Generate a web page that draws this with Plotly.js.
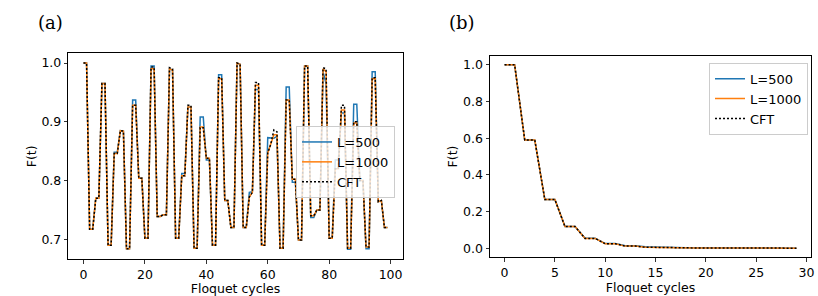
<!DOCTYPE html>
<html>
<head>
<meta charset="utf-8">
<script src="https://cdn.plot.ly/plotly-3.0.1.min.js"></script>
<style>html,body{margin:0;padding:0;background:#fff;}#chart{width:818px;height:296px;}</style>
</head>
<body>
<div id="chart"></div>
<script>
// ---- Panel (a): fidelity over 100 Floquet cycles ----
const cyclesA = Array.from({length: 100}, (_, i) => i);
const fA_L500 = [
  1.000, 1.000, 0.717, 0.717, 0.770, 0.770, 0.965, 0.965, 0.690, 0.690,
  0.848, 0.848, 0.885, 0.884, 0.684, 0.684, 0.937, 0.937, 0.804, 0.804,
  0.702, 0.702, 0.995, 0.995, 0.739, 0.739, 0.742, 0.742, 0.990, 0.988,
  0.702, 0.702, 0.812, 0.812, 0.925, 0.925, 0.685, 0.685, 0.908, 0.908,
  0.835, 0.835, 0.690, 0.690, 0.980, 0.980, 0.766, 0.766, 0.720, 0.720,
  1.000, 0.998, 0.720, 0.720, 0.780, 0.781, 0.955, 0.955, 0.690, 0.690,
  0.873, 0.873, 0.872, 0.875, 0.685, 0.685, 0.959, 0.959, 0.797, 0.797,
  0.699, 0.699, 0.995, 0.995, 0.737, 0.737, 0.750, 0.750, 0.985, 0.965,
  0.702, 0.702, 0.835, 0.835, 0.915, 0.915, 0.683, 0.683, 0.930, 0.930,
  0.800, 0.800, 0.684, 0.684, 0.985, 0.985, 0.764, 0.766, 0.720, 0.720
];
const fA_L1000 = [
  1.000, 1.000, 0.717, 0.717, 0.770, 0.770, 0.965, 0.965, 0.690, 0.690,
  0.846, 0.846, 0.885, 0.884, 0.684, 0.684, 0.928, 0.928, 0.804, 0.804,
  0.702, 0.702, 0.990, 0.990, 0.739, 0.739, 0.742, 0.742, 0.990, 0.988,
  0.702, 0.702, 0.808, 0.808, 0.925, 0.925, 0.685, 0.685, 0.891, 0.891,
  0.838, 0.838, 0.690, 0.690, 0.973, 0.973, 0.766, 0.766, 0.720, 0.720,
  1.000, 0.998, 0.720, 0.720, 0.772, 0.780, 0.962, 0.962, 0.690, 0.690,
  0.847, 0.862, 0.878, 0.878, 0.685, 0.685, 0.937, 0.937, 0.802, 0.802,
  0.699, 0.699, 0.995, 0.995, 0.740, 0.740, 0.750, 0.750, 0.990, 0.985,
  0.702, 0.702, 0.820, 0.820, 0.920, 0.920, 0.685, 0.685, 0.898, 0.898,
  0.800, 0.800, 0.687, 0.687, 0.973, 0.973, 0.764, 0.766, 0.720, 0.720
];
const fA_CFT = [
  1.000, 1.000, 0.717, 0.717, 0.770, 0.770, 0.965, 0.965, 0.690, 0.690,
  0.846, 0.846, 0.885, 0.884, 0.684, 0.684, 0.928, 0.928, 0.804, 0.804,
  0.702, 0.702, 0.993, 0.993, 0.739, 0.739, 0.742, 0.742, 0.992, 0.990,
  0.702, 0.702, 0.808, 0.808, 0.928, 0.928, 0.685, 0.685, 0.890, 0.890,
  0.838, 0.838, 0.690, 0.690, 0.975, 0.975, 0.766, 0.766, 0.720, 0.720,
  1.000, 0.998, 0.720, 0.720, 0.772, 0.780, 0.967, 0.967, 0.690, 0.690,
  0.847, 0.862, 0.886, 0.883, 0.685, 0.685, 0.937, 0.937, 0.802, 0.802,
  0.699, 0.699, 0.995, 0.995, 0.740, 0.740, 0.750, 0.750, 0.992, 0.990,
  0.702, 0.702, 0.820, 0.820, 0.928, 0.928, 0.685, 0.685, 0.900, 0.900,
  0.800, 0.800, 0.687, 0.687, 0.975, 0.975, 0.764, 0.766, 0.720, 0.720
];

// ---- Panel (b): fidelity decay over 30 Floquet cycles ----
const cyclesB = Array.from({length: 30}, (_, i) => i);
const fB_L500 = [
  1.000, 1.000, 0.590, 0.590, 0.265, 0.265, 0.118, 0.118, 0.054, 0.054,
  0.025, 0.025, 0.013, 0.013, 0.007, 0.007, 0.004, 0.003, 0.002, 0.002,
  0.001, 0.001, 0.001, 0.001, 0.000, 0.000, 0.000, 0.000, 0.000, 0.000
];
const fB_L1000 = [
  1.000, 1.000, 0.590, 0.590, 0.265, 0.265, 0.118, 0.118, 0.053, 0.053,
  0.024, 0.024, 0.011, 0.011, 0.005, 0.005, 0.002, 0.002, 0.001, 0.001,
  0.0005, 0.0005, 0.0002, 0.0002, 0.0001, 0.0001, 0.000, 0.000, 0.000, 0.000
];
const fB_CFT = [
  1.000, 1.000, 0.590, 0.590, 0.265, 0.265, 0.118, 0.118, 0.053, 0.053,
  0.024, 0.024, 0.011, 0.011, 0.005, 0.005, 0.002, 0.002, 0.001, 0.001,
  0.0005, 0.0005, 0.0002, 0.0002, 0.0001, 0.0001, 0.000, 0.000, 0.000, 0.000
];

const seriesNames = ["L=500", "L=1000", "CFT"];
const xTicksA = [0, 20, 40, 60, 80, 100];
const yTicksA = [0.7, 0.8, 0.9, 1.0];
const xTicksB = [0, 5, 10, 15, 20, 25, 30];
const yTicksB = [0.0, 0.2, 0.4, 0.6, 0.8, 1.0];

const BLUE = "#1f77b4", ORANGE = "#ff7f0e";
const FONT = "DejaVu Sans, sans-serif";

function mk(x, y, name, color, dash, xa, ya, leg, show) {
  return {
    x: x, y: y, name: name, type: "scatter", mode: "lines",
    line: {color: color, width: 1.5, dash: dash},
    xaxis: xa, yaxis: ya, legend: leg, showlegend: show
  };
}

const traces = [
  mk(cyclesA, fA_L500, seriesNames[0], BLUE, "solid", "x", "y", "legend", true),
  mk(cyclesA, fA_L1000, seriesNames[1], ORANGE, "solid", "x", "y", "legend", true),
  mk(cyclesA, fA_CFT, seriesNames[2], "#000000", "2px,2px", "x", "y", "legend", true),
  mk(cyclesB, fB_L500, seriesNames[0], BLUE, "solid", "x2", "y2", "legend2", true),
  mk(cyclesB, fB_L1000, seriesNames[1], ORANGE, "solid", "x2", "y2", "legend2", true),
  mk(cyclesB, fB_CFT, seriesNames[2], "#000000", "2px,2px", "x2", "y2", "legend2", true)
];

const axCommon = {
  showgrid: false, zeroline: false, showline: true, mirror: true,
  linecolor: "#000", linewidth: 1, ticks: "outside", ticklen: 3.5,
  tickcolor: "#000", tickwidth: 0.8,
  tickfont: {family: FONT, size: 12.5, color: "#000"}
};
const titleFont = {family: FONT, size: 12.5, color: "#000"};
const W = 818, H = 296;

const legendCommon = {
  bgcolor: "rgba(255,255,255,0.8)", bordercolor: "#cccccc", borderwidth: 1,
  font: {family: FONT, size: 13, color: "#000"},
  xanchor: "left", yanchor: "top", tracegroupgap: 0, itemwidth: 30
};

const layout = {
  width: W, height: H,
  margin: {l: 0, r: 0, t: 0, b: 0},
  paper_bgcolor: "#fff", plot_bgcolor: "#fff",
  xaxis: Object.assign({}, axCommon, {
    domain: [68.3 / W, 402.7 / W], range: [-4.95, 103.95],
    tickvals: xTicksA, anchor: "y",
    title: {text: "Floquet cycles", font: titleFont, standoff: 2}
  }),
  yaxis: Object.assign({}, axCommon, {
    domain: [1 - 259.3 / H, 1 - 53.3 / H], range: [0.666, 1.0165],
    tickvals: yTicksA, tickformat: ".1f", anchor: "x",
    title: {text: "F(t)", font: titleFont, standoff: 2}
  }),
  xaxis2: Object.assign({}, axCommon, {
    domain: [490 / W, 811 / W], range: [-1.45, 30.45],
    tickvals: xTicksB, anchor: "y2",
    title: {text: "Floquet cycles", font: titleFont, standoff: 2}
  }),
  yaxis2: Object.assign({}, axCommon, {
    domain: [1 - 257.3 / H, 1 - 55.7 / H], range: [-0.05, 1.05],
    tickvals: yTicksB, tickformat: ".1f", anchor: "x2",
    title: {text: "F(t)", font: titleFont, standoff: 2}
  }),
  legend: Object.assign({}, legendCommon, {x: 296 / W, y: 1 - 126 / H}),
  legend2: Object.assign({}, legendCommon, {x: 709 / W, y: 1 - 62.7 / H}),
  annotations: [
    {text: "(a)", xref: "paper", yref: "paper", x: 50 / W, y: 1 - 22 / H,
     xanchor: "center", yanchor: "middle", showarrow: false,
     font: {family: "DejaVu Serif, serif", size: 18, color: "#000"}},
    {text: "(b)", xref: "paper", yref: "paper", x: 462 / W, y: 1 - 22 / H,
     xanchor: "center", yanchor: "middle", showarrow: false,
     font: {family: "DejaVu Serif, serif", size: 18, color: "#000"}}
  ]
};

Plotly.newPlot("chart", traces, layout, {staticPlot: true, displayModeBar: false});
</script>
</body>
</html>
